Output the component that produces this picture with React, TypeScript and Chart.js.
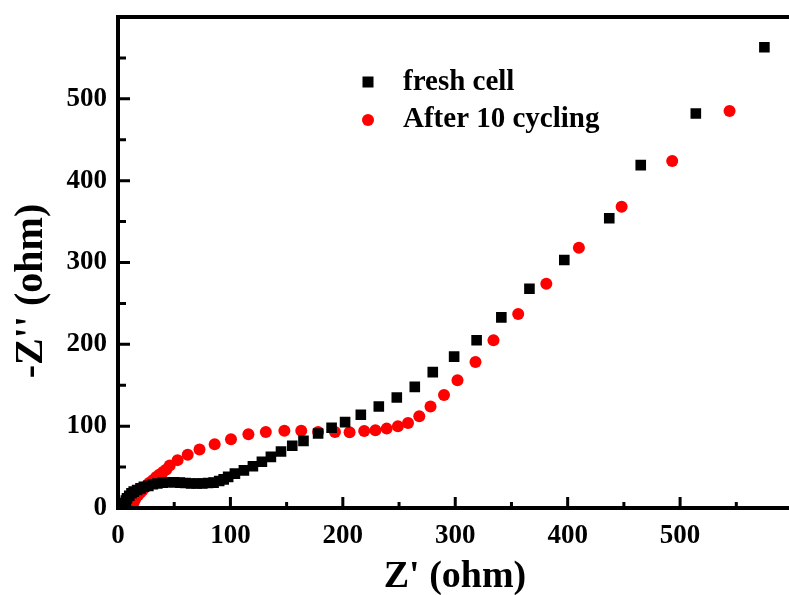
import React, { useEffect, useRef } from "react";
import { Chart, registerables } from "chart.js";

Chart.register(...registerables);

const freshLabel = "fresh cell";
const cycledLabel = "After 10 cycling";
const xTitle = "Z' (ohm)";
const yTitle = "-Z'' (ohm)";

const freshX = [5, 6, 7, 8, 10, 12, 14, 17, 20, 23, 27, 31, 35, 40, 45, 50, 55, 60, 65, 70, 75, 80, 85, 90, 94, 98, 104, 112, 120, 128, 136, 145, 155, 165, 178, 190, 202, 216, 232, 248, 264, 280, 299, 319, 341, 366, 397, 437, 465, 514, 575];
const freshY = [3, 6, 9, 12, 15, 18, 20, 22, 24, 26, 27, 29, 30, 31, 31.5, 31.5, 31, 30.5, 30, 30, 30, 30.5, 31, 33, 35, 38, 42, 46, 51, 56.5, 62.5, 69, 76, 82, 91, 98, 105, 114, 124, 135, 148, 166, 185, 205, 233, 268, 303, 354, 419, 482, 563];

const cycledX = [12, 13, 14, 15, 16, 18, 20, 22, 24, 26, 28, 31, 34, 37, 40, 43, 46, 53, 62, 72.5, 86, 100.5, 116, 131.5, 148, 163, 178, 193, 206, 219, 229, 239, 249, 258, 268, 278, 290, 302, 318, 334, 356, 381, 410, 448, 493, 544];
const cycledY = [1, 4, 7, 10, 13, 16, 19, 22, 25, 28, 31, 34, 38, 41, 44, 47, 52, 58.5, 65, 71.5, 78, 84, 90, 93, 94.5, 94.5, 93, 93, 92.5, 94, 95, 97, 100, 104, 112, 124, 138, 156, 178.5, 205, 237, 274, 318, 368, 424, 485];

const xMin = 0, xMax = 600, yMin = 0, yMax = 600;
const majorStep = 100, minorStep = 50;

const FONT = "'Liberation Serif', 'Times New Roman', serif";

const framePlugin = {
  id: "frame",
  afterDraw(chart: any) {
    const ctx = chart.ctx;
    const { left, right, top, bottom } = chart.chartArea;
    const xs = chart.scales.x;
    const ys = chart.scales.y;
    ctx.save();
    ctx.strokeStyle = "#000";
    ctx.lineCap = "butt";
    // axes
    ctx.lineWidth = 4;
    ctx.beginPath();
    ctx.moveTo(left, top - 2);
    ctx.lineTo(left, bottom + 2);
    ctx.moveTo(left - 2, bottom);
    ctx.lineTo(right + 2, bottom);
    ctx.moveTo(left - 2, top);
    ctx.lineTo(right + 2, top);
    ctx.stroke();
    // ticks
    ctx.lineWidth = 3;
    ctx.beginPath();
    for (let v = xMin + minorStep; v < xMax; v += minorStep) {
      const px = xs.getPixelForValue(v);
      const len = v % majorStep === 0 ? 11 : 6;
      ctx.moveTo(px, bottom);
      ctx.lineTo(px, bottom - len);
    }
    for (let v = yMin + minorStep; v < yMax; v += minorStep) {
      const py = ys.getPixelForValue(v);
      const len = v % majorStep === 0 ? 12 : 8;
      ctx.moveTo(left, py);
      ctx.lineTo(left + len, py);
    }
    ctx.stroke();

    // axis titles
    ctx.fillStyle = "#000";
    ctx.font = `bold 38px ${FONT}`;
    ctx.textAlign = "center";
    ctx.textBaseline = "middle";
    ctx.fillText(xTitle, 455, 577);
    ctx.save();
    ctx.translate(32, 291);
    ctx.rotate(-Math.PI / 2);
    ctx.font = `bold 40px ${FONT}`;
    ctx.fillText(yTitle, 0, 0);
    ctx.restore();

    // legend
    const ds = chart.data.datasets;
    ctx.font = `bold 29px ${FONT}`;
    ctx.textAlign = "left";
    ctx.textBaseline = "alphabetic";
    ctx.fillStyle = ds[0].backgroundColor;
    ctx.fillRect(368 - 5.5, 82 - 5.5, 11, 11);
    ctx.fillStyle = "#000";
    ctx.fillText(ds[0].label, 403, 90);
    ctx.fillStyle = ds[1].backgroundColor;
    ctx.beginPath();
    ctx.arc(368, 120, 6, 0, Math.PI * 2);
    ctx.fill();
    ctx.fillStyle = "#000";
    ctx.fillText(ds[1].label, 403, 127);
    ctx.restore();
  },
};

const noPad = (s: any) => {
  s.paddingLeft = 0;
  s.paddingRight = 0;
  s.paddingTop = 0;
  s.paddingBottom = 0;
};

export default function App() {
  const ref = useRef<HTMLCanvasElement | null>(null);
  useEffect(() => {
    if (!ref.current) return;
    const chart = new Chart(ref.current, {
      type: "scatter",
      data: {
        datasets: [
          {
            label: freshLabel,
            data: freshX.map((x, i) => ({ x, y: freshY[i] })),
            pointStyle: "rect",
            pointRadius: 7.5,
            backgroundColor: "#000000",
            borderColor: "#000000",
            borderWidth: 0,
          },
          {
            label: cycledLabel,
            data: cycledX.map((x, i) => ({ x, y: cycledY[i] })),
            pointStyle: "circle",
            pointRadius: 6,
            backgroundColor: "#ff0000",
            borderColor: "#ff0000",
            borderWidth: 0,
          },
        ],
      },
      options: {
        responsive: false,
        animation: false,
        layout: { padding: { left: 0, top: 17, right: 4, bottom: 0 } },
        plugins: { legend: { display: false }, tooltip: { enabled: false } },
        scales: {
          x: {
            type: "linear",
            min: xMin,
            max: xMax,
            afterFit: (s: any) => { s.height = 87; noPad(s); },
            grid: { display: false, drawTicks: false },
            border: { display: false },
            ticks: {
              stepSize: majorStep,
              padding: 12,
              color: "#000",
              font: { family: FONT, size: 27, weight: "bold" },
              callback: (v: any) => (v >= xMax ? "" : String(v)),
              maxRotation: 0,
            },
          },
          y: {
            type: "linear",
            min: yMin,
            max: yMax,
            afterFit: (s: any) => { s.width = 118; noPad(s); },
            grid: { display: false, drawTicks: false },
            border: { display: false },
            ticks: {
              stepSize: majorStep,
              padding: 11,
              color: "#000",
              font: { family: FONT, size: 27, weight: "bold" },
              callback: (v: any) => (v >= yMax ? "" : String(v)),
            },
          },
        },
      },
      plugins: [framePlugin],
    });
    return () => chart.destroy();
  }, []);
  return (
    <div style={{ position: "fixed", left: 0, top: 0, width: 789, height: 595, overflow: "hidden", background: "#fff" }}>
      <canvas ref={ref} width={800} height={595} style={{ width: 800, height: 595, display: "block" }} />
    </div>
  );
}
